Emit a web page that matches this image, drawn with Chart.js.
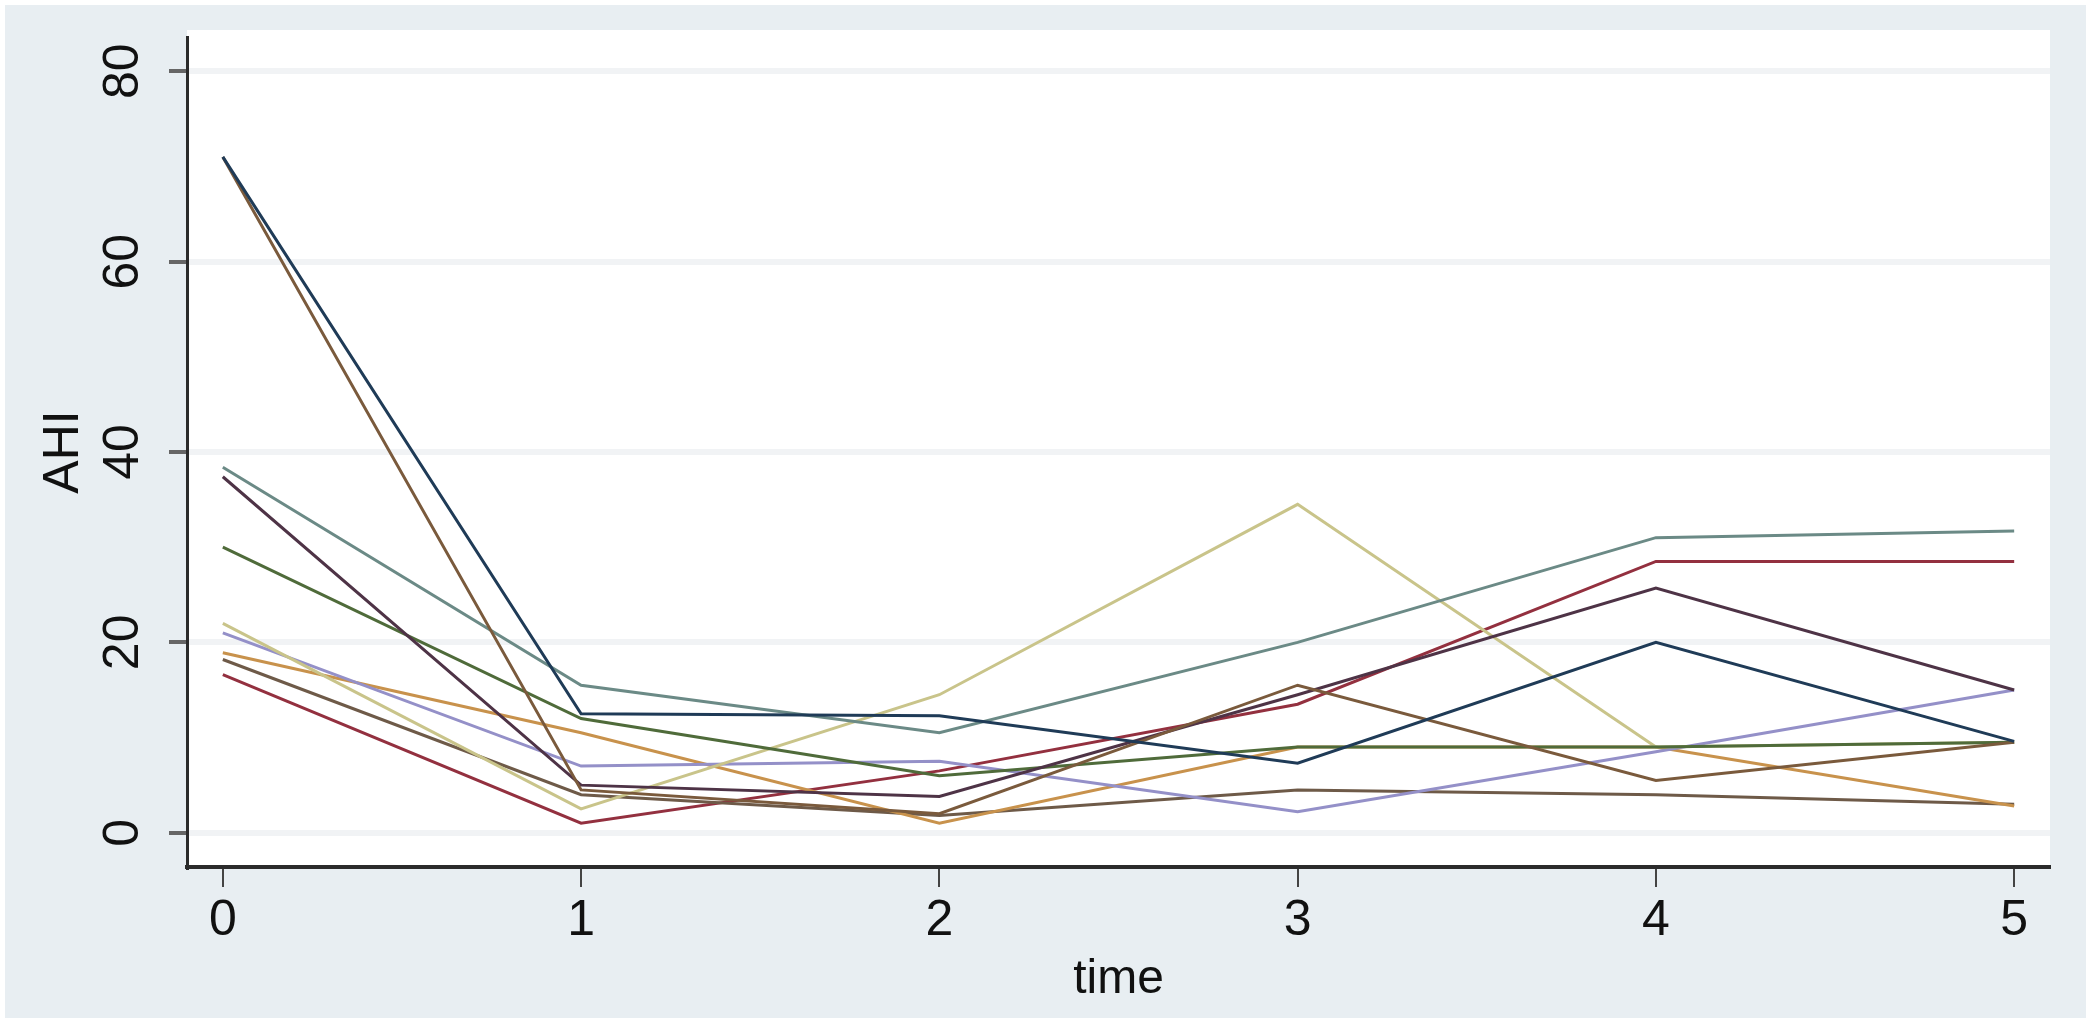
<!DOCTYPE html>
<html>
<head>
<meta charset="utf-8">
<script src="https://cdn.jsdelivr.net/npm/chart.js@4.4.1/dist/chart.umd.min.js"></script>
<style>
  html, body { margin: 0; padding: 0; background: #ffffff; }
  canvas { display: block; }
</style>
</head>
<body>
<canvas id="ahi" width="2091" height="1025"></canvas>
<script>
// time points and tick labels
var times = [0, 1, 2, 3, 4, 5];
var xTicks = [0, 1, 2, 3, 4, 5];
var yTicks = [0, 20, 40, 60, 80];

// AHI per subject
var subj1  = [71.0, 12.5, 12.3, 7.3, 20.0, 9.6];
var subj2  = [71.0, 4.5, 2.0, 15.5, 5.5, 9.5];
var subj3  = [38.4, 15.5, 10.5, 20.0, 31.0, 31.7];
var subj4  = [37.4, 5.0, 3.8, 14.5, 25.7, 15.0];
var subj5  = [30.0, 12.0, 6.0, 9.0, 9.0, 9.5];
var subj6  = [22.0, 2.5, 14.5, 34.5, 9.0, 9.5];
var subj7  = [21.0, 7.0, 7.5, 2.2, 8.5, 15.0];
var subj8  = [18.9, 10.5, 1.0, 9.0, 9.0, 2.8];
var subj9  = [18.2, 4.0, 1.8, 4.5, 4.0, 3.0];
var subj10 = [16.6, 1.0, 6.5, 13.5, 28.5, 28.5];

var series = [subj1, subj2, subj3, subj4, subj5, subj6, subj7, subj8, subj9, subj10];
var colors = ['#1f3b57', '#7a5a3c', '#6b8a86', '#4e3346', '#4f6b3a',
              '#c9c48a', '#9490c8', '#c8924c', '#6e5a48', '#93303f'];

var bigFont = "'Liberation Sans', Arial, sans-serif";

var ctx = document.getElementById('ahi').getContext('2d');

// backdrop like Stata: grey-blue graph region, white plot region
var backdrop = {
    id: 'backdrop',
    beforeDraw: function(chart) {
        var c = chart.ctx, a = chart.chartArea;
        c.save();
        c.fillStyle = '#ffffff';
        c.fillRect(0, 0, chart.width, chart.height);
        c.fillStyle = '#e8eef2';
        c.fillRect(5, 5, chart.width - 10, chart.height - 12);
        c.fillStyle = '#ffffff';
        c.fillRect(a.left, a.top - 7, a.right - a.left, a.bottom - a.top + 7);
        c.restore();
    }
};

// y tick labels are turned like the title, Chart.js can't do that itself
var yLabels = {
    id: 'yLabels',
    afterDraw: function(chart) {
        var c = chart.ctx, sc = chart.scales.y;
        c.save();
        c.fillStyle = '#111111';
        c.font = '50px ' + bigFont;
        c.textAlign = 'center';
        c.textBaseline = 'middle';
        yTicks.forEach(function(v) {
            c.save();
            c.translate(124, sc.getPixelForValue(v));
            c.rotate(-Math.PI / 2);
            c.fillText(String(v), 0, 0);
            c.restore();
        });
        c.restore();
    }
};

var chart = new Chart(ctx, {
    type: 'line',
    data: {
        datasets: series.map(function(vals, i) {
            return {
                label: 'id ' + (i + 1),
                data: times.map(function(t, j) { return { x: t, y: vals[j] }; }),
                borderColor: colors[i],
                backgroundColor: colors[i],
                borderWidth: 3,
                pointRadius: 0,
                tension: 0,
                fill: false
            };
        })
    },
    options: {
        responsive: false,
        animation: false,
        layout: { padding: { top: 37, right: 41, left: 0, bottom: 0 } },
        plugins: {
            legend: { display: false },
            tooltip: { enabled: false }
        },
        scales: {
            x: {
                type: 'linear',
                min: -0.1,
                max: 5.1,
                afterBuildTicks: function(sc) { sc.ticks = xTicks.map(function(v) { return { value: v }; }); },
                afterFit: function(sc) { sc.height = 158; },
                grid: { drawOnChartArea: false, drawTicks: true, tickLength: 20, color: '#444444', lineWidth: 2 },
                border: { display: true, color: '#2b2b2b', width: 4 },
                ticks: {
                    color: '#111111',
                    padding: 4,
                    maxRotation: 0,
                    font: { size: 50, family: bigFont }
                },
                title: {
                    display: true,
                    text: 'time',
                    color: '#111111',
                    font: { size: 48, family: bigFont },
                    padding: { top: 0, bottom: 16 }
                }
            },
            y: {
                min: -3.6,
                max: 83.6,
                afterBuildTicks: function(sc) { sc.ticks = yTicks.map(function(v) { return { value: v }; }); },
                afterFit: function(sc) { sc.width = 187; },
                grid: { drawOnChartArea: true, color: '#f1f3f5', lineWidth: 6, tickColor: '#666666', tickWidth: 4, tickLength: 18 },
                border: { display: true, color: '#2b2b2b', width: 3 },
                ticks: { display: false },
                title: {
                    display: true,
                    text: 'AHI',
                    color: '#111111',
                    font: { size: 50, family: bigFont },
                    padding: { top: 34, bottom: 0 }
                }
            }
        }
    },
    plugins: [backdrop, yLabels]
});
</script>
</body>
</html>
